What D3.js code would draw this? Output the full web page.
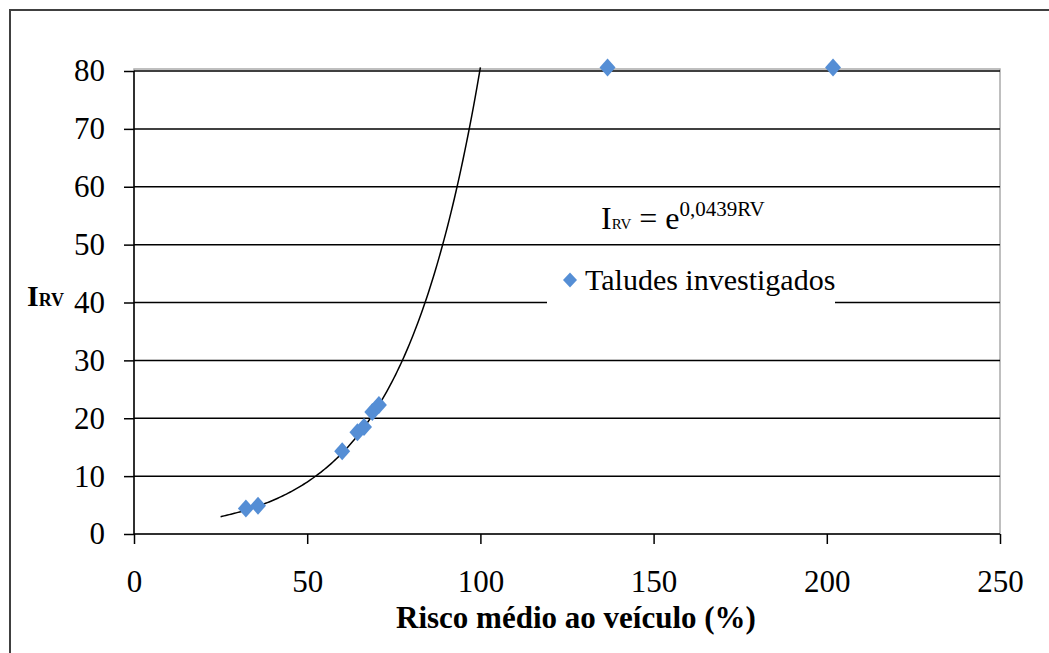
<!DOCTYPE html>
<html>
<head>
<meta charset="utf-8">
<script src="https://cdn.jsdelivr.net/npm/d3@7"></script>
<style>
  html, body { margin: 0; padding: 0; background: #fff; }
  svg { display: block; }
  text { font-family: "Liberation Serif", "Times New Roman", serif; fill: #000; }
</style>
</head>
<body>
<div id="chart"></div>
<script>
// ── Data ──
const riskX = [32.3, 35.8, 60.1, 64.5, 66.4, 68.8, 70.7, 136.7, 201.8];
const irvY = [4.4, 4.9, 14.3, 17.6, 18.5, 21.1, 22.3, 80.6, 80.6];
const xTicks = [0, 50, 100, 150, 200, 250];
const yTicks = [0, 10, 20, 30, 40, 50, 60, 70, 80];
const fitK = 0.0439;
const fitRange = [25, 100];

const W = 1049, H = 653;
const M = { t: 71, r: 49, b: 119, l: 134 };
const w = W - M.l - M.r;
const h = H - M.t - M.b;

const svg = d3.select("#chart").append("svg").attr("width", W).attr("height", H);

// outer frame
svg.append("rect")
  .attr("x", 10).attr("y", 10).attr("width", W + 10).attr("height", H + 10)
  .attr("fill", "none").attr("stroke", "#404040").attr("stroke-width", 2);

const g = svg.append("g").attr("transform", `translate(${M.l},${M.t})`);

const x = d3.scaleLinear().domain([0, 250]).range([0, w]);
const y = d3.scaleLinear().domain([0, 80]).range([h, 0]);

// plot area border (grey)
g.append("rect")
  .attr("x", 0).attr("y", -2).attr("width", w).attr("height", h + 2)
  .attr("fill", "none").attr("stroke", "#aaa").attr("stroke-width", 1.5);

// gridlines
g.append("g").selectAll("line").data(yTicks.filter(d => d > 0)).join("line")
  .attr("x1", 0).attr("x2", w)
  .attr("y1", d => y(d)).attr("y2", d => y(d))
  .attr("stroke", "#000").attr("stroke-width", 1.5);

// axes
const yAx = g.append("g").call(d3.axisLeft(y).tickValues(yTicks).tickSize(10).tickPadding(19));
const xAx = g.append("g").attr("transform", `translate(0,${h})`)
  .call(d3.axisBottom(x).tickValues(xTicks).tickSize(10).tickPadding(26));
[yAx, xAx].forEach(a => {
  a.select(".domain").attr("stroke", "#000").attr("stroke-width", 1.5);
  a.selectAll(".tick line").attr("stroke", "#000").attr("stroke-width", 1.5);
  a.selectAll("text").attr("font-family", "Liberation Serif").attr("font-size", 31).attr("fill", "#000");
});
xAx.select(".domain").attr("d", `M0,0H${w}`);
yAx.select(".domain").attr("d", `M0,${h}V0`);
xAx.selectAll(".tick line").attr("y1", 0);

// fitted curve
const curvePts = d3.range(fitRange[0], fitRange[1] + 0.01, 0.5).map(v => [v, Math.exp(fitK * v)]);
g.append("path").datum(curvePts)
  .attr("d", d3.line().x(d => x(d[0])).y(d => y(d[1])))
  .attr("fill", "none").attr("stroke", "#000").attr("stroke-width", 1.5);

// markers
const diamond = "M0,-9L8,0L0,9L-8,0Z";
g.append("g").selectAll("path").data(riskX.map((v, i) => [v, irvY[i]])).join("path")
  .attr("d", diamond)
  .attr("transform", d => `translate(${x(d[0])},${y(d[1])})`)
  .attr("fill", "#558ed5");

// equation
const eq = g.append("text").attr("x", 601 - M.l).attr("y", 229 - M.t).attr("font-size", 32);
eq.append("tspan").text("I");
eq.append("tspan").attr("font-size", 15).text("RV");
eq.append("tspan").text(" = e");
eq.append("tspan").attr("dy", -13).attr("font-size", 21).text("0,0439RV");

// legend
const lg = g.append("g").attr("transform", `translate(${547 - M.l},${262 - M.t})`);
lg.append("rect").attr("width", 288).attr("height", 44).attr("fill", "#fff");
lg.append("path").attr("d", "M0,-7.5L7,0L0,7.5L-7,0Z").attr("transform", "translate(23,18)").attr("fill", "#558ed5");
lg.append("text").attr("x", 38).attr("y", 28).attr("font-size", 30).text("Taludes investigados");

// axis titles
g.append("text")
  .attr("x", 442).attr("y", 628 - M.t)
  .attr("text-anchor", "middle").attr("font-size", 31).attr("font-weight", "bold")
  .text("Risco médio ao veículo (%)");

const yt = svg.append("text").attr("x", 27).attr("y", 306).attr("font-weight", "bold");
yt.append("tspan").attr("font-size", 30).text("I");
yt.append("tspan").attr("font-size", 18).text("RV");
</script>
</body>
</html>
